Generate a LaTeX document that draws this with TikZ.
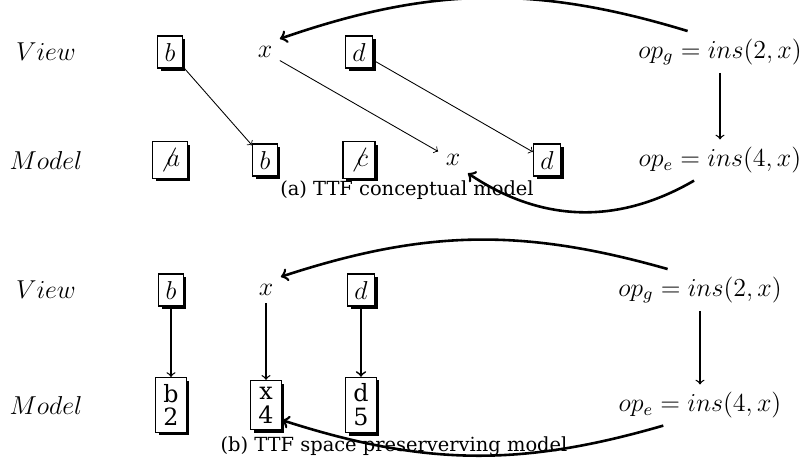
\documentclass[tikz,border=0pt]{standalone}
\usepackage{fontspec}
\newfontfamily\capfont{DejaVu Serif}
\usetikzlibrary{shadows,positioning,calc}

\begin{document}
\begin{tikzpicture}[->, >=to, thin, x=0.463pt, y=-0.463pt, font=\large]
    \tikzstyle{cell}=[draw=black, semithick, fill=white, rectangle, inner sep=3.2pt,
        general shadow={fill=black, shadow xshift=1.4pt, shadow yshift=-1.4pt}]
    \tikzstyle{pair}=[cell, align=center, inner xsep=3.6pt, inner ysep=3pt,
        font=\capfont\fontsize{11}{11}\selectfont]
    \tikzstyle{caption}=[font=\capfont\fontsize{9}{10}\selectfont]
    \tikzstyle{bow}=[line width=1.2pt]

    \path[use as bounding box] (0,0) rectangle (805,462);

    % (a) conceptual model
    \node (viewa) at (46,52) {$View$};
    \node[cell] (vab) at (170,52) {$b$};
    \node (vax) at (265,52) {$x$};
    \node[cell] (vad) at (359,52) {$d$};
    \node (opga) at (720,52) {$op_g = ins(2,x)$};

    \node (modela) at (46,160) {$Model$};
    \node[cell] (maa) at (170,160) {$\not a$};
    \node[cell] (mab) at (265,160) {$b$};
    \node[cell] (mac) at (359,160) {$\not c$};
    \node (max) at (453,160) {$x$};
    \node[cell] (mad) at (547,160) {$d$};
    \node (opea) at (720,160) {$op_e = ins(4,x)$};

    \node[caption] (capa) at (407,190) {(a)~TTF conceptual model};

    % edges
    \path (vab) edge (mab);
    \path (vax) edge (max);
    \path (vad) edge (mad);
    \draw[semithick] (opga) -- (opea);
    \draw[bow] ([xshift=-15pt]opga.north) to[bend right=18] (vax.north east);
    \draw[bow] ([xshift=-12pt]opea.south) to[bend left=32] (max.south east);

    % (b) space preserving model
    \node (viewb) at (46,290) {$View$};
    \node[cell] (vbb) at (171,290) {$b$};
    \node (vbx) at (266,290) {$x$};
    \node[cell] (vbd) at (361,290) {$d$};
    \node (opgb) at (700,290) {$op_g = ins(2,x)$};

    \node (modelb) at (46,405) {$Model$};
    \node[pair] (mbb) at (171,405) {b\\2};
    \node[pair] (mbx) at (266,405) {x\\4};
    \node[pair] (mbd) at (361,405) {d\\5};
    \node (opeb) at (700,405) {$op_e = ins(4,x)$};

    \node[caption] (capb) at (394,446) {(b)~TTF space preserverving model};

    % edges
    \path (vbb) edge[semithick] (mbb);
    \path (vbx) edge[semithick] (mbx);
    \path (vbd) edge[thick] (mbd);
    \draw[semithick] (opgb) -- (opeb);
    \draw[bow] ([xshift=-15pt]opgb.north) to[bend right=17] (vbx.north east);
    \draw[bow] ([xshift=-17pt]opeb.south) to[bend left=17] ([yshift=-7pt]mbx.east);

\end{tikzpicture}
\end{document}
